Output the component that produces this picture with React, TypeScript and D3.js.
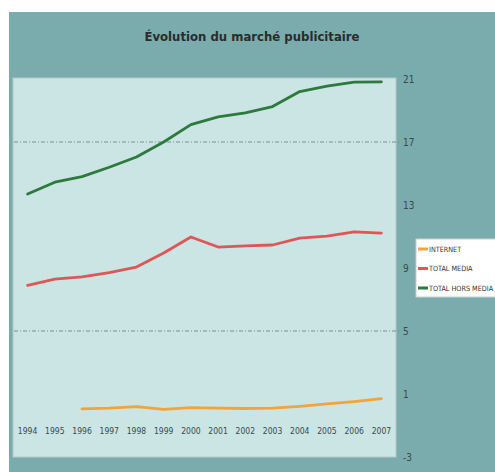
import React, { useEffect } from "react"
import * as d3 from "d3"

const years = ["1994", "1995", "1996", "1997", "1998", "1999", "2000", "2001", "2002", "2003", "2004", "2005", "2006", "2007"]
const yTicks = [21, 17, 13, 9, 5, 1, -3]
const gridValues = [17, 5]

// null = no data for that year
const internet = [null, null, 0.05, 0.1, 0.2, 0.03, 0.13, 0.1, 0.08, 0.1, 0.22, 0.37, 0.52, 0.7]
const totalMedia = [7.9, 8.3, 8.43, 8.7, 9.06, 9.95, 10.97, 10.33, 10.4, 10.46, 10.9, 11.03, 11.3, 11.22]
const totalHorsMedia = [13.7, 14.45, 14.8, 15.4, 16.05, 17.0, 18.1, 18.6, 18.85, 19.25, 20.2, 20.55, 20.8, 20.82]

const seriesNames = ["INTERNET", "TOTAL MEDIA", "TOTAL HORS MEDIA"]
const seriesValues = [internet, totalMedia, totalHorsMedia]
const seriesColors = ["#f2a43a", "#e05656", "#2c7a3c"]

const W = 495
const H = 472
const narrow = "'Liberation Sans Narrow', 'DejaVu Sans Condensed', 'Roboto Condensed', sans-serif"

const App: React.FC = () => {
  useEffect(() => {
    document.body.style.margin = "0"
  }, [])

  const plot = { left: 14, right: 395, top: 79, bottom: 457 }
  const x = d3.scaleBand().domain(years).range([plot.left, plot.right])
  const y = d3.scaleLinear().domain([-3, 21]).range([plot.bottom, plot.top])

  const line = d3
    .line<number | null>()
    .defined((d) => d !== null)
    .x((_, i) => (x(years[i]) ?? 0) + x.bandwidth() / 2)
    .y((d) => y(d as number))

  return (
    <svg width={W} height={H} style={{ display: "block" }}>
      <rect x={0} y={0} width={W} height={H} fill="#ffffff" />
      {/* chart frame */}
      <rect x={9} y={12} width={W - 9} height={H - 12} fill="#7aacae" />
      <text
        x={252}
        y={41}
        textAnchor="middle"
        fontFamily={narrow}
        fontWeight="bold"
        fontSize={13}
        fill="#2b2b2b"
      >
        Évolution du marché publicitaire
      </text>

      {/* plot area */}
      <rect
        x={plot.left - 1}
        y={plot.top - 1}
        width={plot.right - plot.left + 2}
        height={plot.bottom - plot.top + 1}
        fill="#cbe4e4"
        stroke="#b8c8c8"
        strokeWidth={1}
      />

      {gridValues.map((v) => (
        <line
          key={v}
          x1={plot.left}
          x2={plot.right + 5}
          y1={y(v)}
          y2={y(v)}
          stroke="#6a7a7a"
          strokeWidth={0.8}
          strokeDasharray="4 2 1 2"
        />
      ))}

      {/* y axis on the right */}
      {yTicks.map((v) => (
        <text
          key={v}
          x={plot.right + 8}
          y={y(v)}
          dy="0.35em"
          fontFamily={narrow}
          fontSize={10}
          fill="#3a4a4a"
        >
          {v}
        </text>
      ))}

      {/* x labels */}
      {years.map((yr) => (
        <text
          key={yr}
          x={(x(yr) ?? 0) + x.bandwidth() / 2}
          y={431}
          dy="0.35em"
          textAnchor="middle"
          fontFamily={narrow}
          fontSize={8.5}
          fill="#3a4a4a"
        >
          {yr}
        </text>
      ))}

      {seriesValues.map((vals, i) => (
        <path
          key={seriesNames[i]}
          d={line(vals) ?? ""}
          fill="none"
          stroke={seriesColors[i]}
          strokeWidth={2.8}
          strokeLinejoin="round"
          strokeLinecap="round"
        />
      ))}

      {/* legend */}
      <rect x={416} y={239} width={90} height={58} fill="#ffffff" stroke="#c8d0d0" strokeWidth={1} />
      {seriesNames.map((name, i) => (
        <g key={name} transform={`translate(418, ${249 + i * 19.5})`}>
          <line x1={0} x2={10} y1={0} y2={0} stroke={seriesColors[i]} strokeWidth={3} />
          <text x={11} y={0} dy="0.35em" fontFamily={narrow} fontSize={7.2} fill="#333">
            {name}
          </text>
        </g>
      ))}
    </svg>
  )
}

export default App
